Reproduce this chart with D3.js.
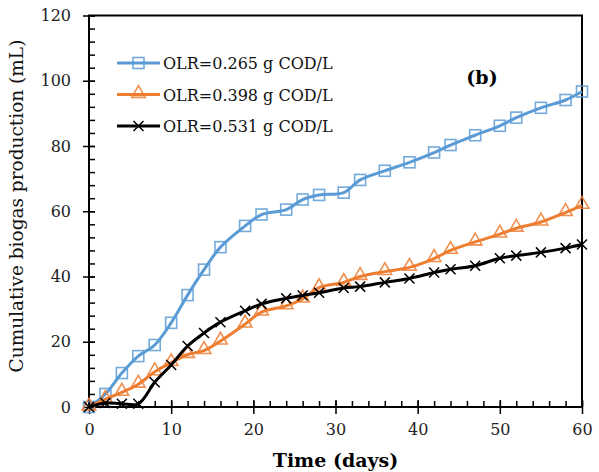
<!DOCTYPE html>
<html>
<head>
<meta charset="utf-8">
<script src="https://cdn.jsdelivr.net/npm/d3@7"></script>
<style>
  body { margin: 0; background: #fff; }
  svg { display: block; font-family: "DejaVu Serif", serif; }
</style>
</head>
<body>
<svg></svg>
<script>
// sampling days, shared by all three series
let days = [0, 2, 4, 6, 8, 10, 12, 14, 16, 19, 21, 24, 26, 28, 31, 33, 36, 39, 42, 44, 47, 50, 52, 55, 58, 60];

// cumulative biogas (mL)
let olr265 = [0, 4, 10.4, 15.6, 19, 25.8, 34.3, 42.1, 49, 55.5, 59, 60.5, 63.6, 65, 65.7, 69.6, 72.4, 75, 78, 80.3, 83.3, 86.2, 88.7, 91.7, 94.1, 96.7];
let olr398 = [0, 2.4, 4.5, 7, 10.8, 13.6, 16.1, 17.3, 20.2, 25.4, 29.1, 31, 33.1, 36.6, 38.2, 40, 41.5, 42.8, 45.5, 48, 50.6, 53, 54.8, 56.7, 59.6, 61.8];
let olr531 = [0, 1.2, 1.0, 1.0, 7.6, 12.9, 18.7, 22.7, 26, 29.5, 31.6, 33.3, 34.2, 35, 36.5, 36.9, 38.2, 39.4, 41.2, 42.2, 43.3, 45.6, 46.4, 47.4, 48.7, 49.8];

let seriesNames = ["OLR=0.265 g COD/L", "OLR=0.398 g COD/L", "OLR=0.531 g COD/L"];
let xTicks = [0, 10, 20, 30, 40, 50, 60];
let yTicks = [0, 20, 40, 60, 80, 100, 120];

let width = 599;
let height = 472;
let plotLeft = 89, plotRight = 582, plotTop = 15.5, plotBottom = 407;

let svg = d3.select("svg").attr("width", width).attr("height", height);

let xScale = d3.scaleLinear().domain([0, 60]).range([plotLeft, plotRight]);
let yScale = d3.scaleLinear().domain([0, 120]).range([plotBottom, plotTop]);

let series = [
  { name: seriesNames[0], values: olr265, color: "#5B9BD5", marker: "square" },
  { name: seriesNames[1], values: olr398, color: "#ED7D31", marker: "triangle" },
  { name: seriesNames[2], values: olr531, color: "#000000", marker: "cross" }
];

let drawMarker = (g, type, color, x, y) => {
  if (type === "square") {
    g.append("rect").attr("x", x - 5.5).attr("y", y - 5.5).attr("width", 11).attr("height", 11)
      .attr("fill", "none").attr("stroke", color).attr("stroke-width", 1.6).attr("stroke-opacity", 0.85);
  } else if (type === "triangle") {
    g.append("path").attr("d", d3.symbol(d3.symbolTriangle, 80)())
      .attr("transform", "translate(" + x + "," + (y - 1) + ")")
      .attr("fill", "none").attr("stroke", color).attr("stroke-width", 1.6).attr("stroke-opacity", 0.85);
  } else {
    g.append("path").attr("d", "M-5,-5L5,5M-5,5L5,-5")
      .attr("transform", "translate(" + x + "," + y + ")")
      .attr("stroke", color).attr("stroke-width", 1.5);
  }
};

// frame
svg.append("rect").attr("x", plotLeft).attr("y", plotTop)
  .attr("width", plotRight - plotLeft).attr("height", plotBottom - plotTop)
  .attr("fill", "none").attr("stroke", "#000").attr("stroke-width", 2);

// minor ticks
let minorX = d3.range(0, 61, 2);
let minorY = d3.range(0, 121, 4);
svg.append("g").attr("transform", "translate(0," + plotBottom + ")")
  .call(d3.axisBottom(xScale).tickValues(minorX).tickSize(-6).tickFormat(""))
  .call(g => g.select(".domain").remove())
  .selectAll("line").attr("stroke-width", 1.5);
svg.append("g").attr("transform", "translate(" + plotLeft + ",0)")
  .call(d3.axisLeft(yScale).tickValues(minorY).tickSize(-6).tickFormat(""))
  .call(g => g.select(".domain").remove())
  .selectAll("line").attr("stroke-width", 1.5);

// major ticks, crossing the axis
let xAxis = svg.append("g").attr("transform", "translate(0," + plotBottom + ")")
  .call(d3.axisBottom(xScale).tickValues(xTicks).tickSize(7).tickPadding(10));
xAxis.selectAll(".tick line").attr("y1", -7).attr("stroke-width", 1.5);
xAxis.select(".domain").remove();
xAxis.selectAll("text").attr("font-family", "DejaVu Serif").attr("font-size", 16).attr("fill", "#222");

let yAxis = svg.append("g").attr("transform", "translate(" + plotLeft + ",0)")
  .call(d3.axisLeft(yScale).tickValues(yTicks).tickSize(6).tickPadding(12));
yAxis.selectAll(".tick line").attr("x1", 6).attr("stroke-width", 1.5);
yAxis.select(".domain").remove();
yAxis.selectAll("text").attr("font-family", "DejaVu Serif").attr("font-size", 16).attr("fill", "#222");

// lines
let line = d3.line()
  .x((d, i) => xScale(days[i]))
  .y(d => yScale(d))
  .curve(d3.curveCatmullRom.alpha(0.5));

series.forEach(s => {
  svg.append("path").datum(s.values).attr("d", line)
    .attr("fill", "none").attr("stroke", s.color).attr("stroke-width", 3);
  let g = svg.append("g");
  s.values.forEach((v, i) => drawMarker(g, s.marker, s.color, xScale(days[i]), yScale(v)));
});

// legend
series.forEach((s, i) => {
  let y = 63 + i * 31.5;
  let g = svg.append("g");
  g.append("line").attr("x1", 117).attr("x2", 160).attr("y1", y).attr("y2", y)
    .attr("stroke", s.color).attr("stroke-width", 3);
  drawMarker(g, s.marker, s.color, 138.5, y);
  g.append("text").attr("x", 163).attr("y", y + 6).attr("font-size", 16).attr("fill", "#111").text(s.name);
});

// panel tag
svg.append("text").attr("x", 482).attr("y", 84).attr("text-anchor", "middle")
  .attr("font-size", 19).attr("font-weight", "bold").text("(b)");

// axis titles
svg.append("text").attr("x", (plotLeft + plotRight) / 2).attr("y", 467).attr("text-anchor", "middle")
  .attr("font-size", 19).attr("font-weight", "bold").text("Time (days)");
svg.append("text").attr("transform", "translate(23,206) rotate(-90)")
  .attr("text-anchor", "middle").attr("font-size", 18.5).attr("fill", "#111")
  .text("Cumulative biogas production (mL)");
</script>
</body>
</html>
